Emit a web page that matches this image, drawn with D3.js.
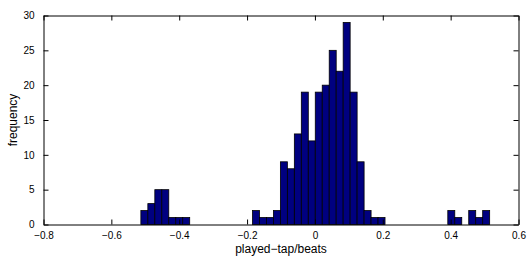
<!DOCTYPE html>
<html>
<head>
<meta charset="utf-8">
<script src="https://cdn.jsdelivr.net/npm/d3@7"></script>
<style>
  html, body { margin: 0; padding: 0; background: #fff; }
  svg { display: block; }
  text { font-family: "Liberation Sans", Arial, Helvetica, sans-serif; font-size: 10px; fill: #000; }
  .title { font-size: 12px; }
</style>
</head>
<body>
<script>
// ---- data ----
const binCounts = [2, 3, 5, 5, 1, 1, 1, 0, 0, 0, 0, 0, 0, 0, 0, 0,
                   2, 1, 1, 2, 9, 8, 13, 19, 12, 19, 20, 25, 22, 29, 19, 9, 2, 1, 1,
                   0, 0, 0, 0, 0, 0, 0, 0, 0,
                   2, 1, 0, 2, 1, 2];
const binRange = [-0.513, 0.515];           // histogram data range (50 equal bins)
const xTicks = [-0.8, -0.6, -0.4, -0.2, 0, 0.2, 0.4, 0.6];
const yTicks = [0, 5, 10, 15, 20, 25, 30];
const xDomain = [-0.8, 0.6];
const yDomain = [0, 30];
const xLabel = "played\u2212tap/beats";
const yLabel = "frequency";

const W = 528, H = 259;
const mLeft = 43.5, mRight = 518.5, mTop = 15.5, mBottom = 224.5;

const svg = d3.select("body").append("svg").attr("width", W).attr("height", H);

const x = d3.scaleLinear().domain(xDomain).range([mLeft, mRight]);
const y = d3.scaleLinear().domain(yDomain).range([mBottom, mTop]);

const nb = binCounts.length;
const bw = (binRange[1] - binRange[0]) / nb;
const bins = binCounts.map((c, i) => ({ x0: binRange[0] + i * bw, x1: binRange[0] + (i + 1) * bw, c }));

svg.append("g").selectAll("rect")
  .data(bins.filter(b => b.c > 0))
  .join("rect")
  .attr("x", d => x(d.x0))
  .attr("width", d => x(d.x1) - x(d.x0))
  .attr("y", d => y(d.c))
  .attr("height", d => y(0) - y(d.c))
  .attr("fill", "#000080")
  .attr("stroke", "#000")
  .attr("stroke-width", 0.8);

const fmtX = v => v === 0 ? "0" : (v < 0 ? "\u2212" : "") + String(Math.abs(v));

// axes
const tl = 5;
const axB = svg.append("g").attr("transform", `translate(0,${mBottom})`)
  .call(d3.axisBottom(x).tickValues(xTicks).tickSizeInner(-tl).tickSizeOuter(0).tickPadding(7).tickFormat(fmtX));
const axT = svg.append("g").attr("transform", `translate(0,${mTop})`)
  .call(d3.axisTop(x).tickValues(xTicks).tickSizeInner(-tl).tickSizeOuter(0).tickFormat(""));
const axL = svg.append("g").attr("transform", `translate(${mLeft},0)`)
  .call(d3.axisLeft(y).tickValues(yTicks).tickSizeInner(-tl).tickSizeOuter(0).tickPadding(9).tickFormat(d3.format("d")));
const axR = svg.append("g").attr("transform", `translate(${mRight},0)`)
  .call(d3.axisRight(y).tickValues(yTicks).tickSizeInner(-tl).tickSizeOuter(0).tickFormat(""));

[axB, axT, axL, axR].forEach(a => {
  a.attr("font-family", null).attr("font-size", null);
  a.select(".domain").attr("stroke", "#000").attr("stroke-width", 1);
  a.selectAll(".tick line").attr("stroke", "#000").attr("stroke-width", 1);
  a.selectAll("text").attr("fill", "#000");
});

svg.append("text").attr("class", "title")
  .attr("x", (mLeft + mRight) / 2).attr("y", 253)
  .attr("text-anchor", "middle").text(xLabel);

svg.append("text").attr("class", "title")
  .attr("transform", `translate(17,${(mTop + mBottom) / 2}) rotate(-90)`)
  .attr("text-anchor", "middle").text(yLabel);
</script>
</body>
</html>
